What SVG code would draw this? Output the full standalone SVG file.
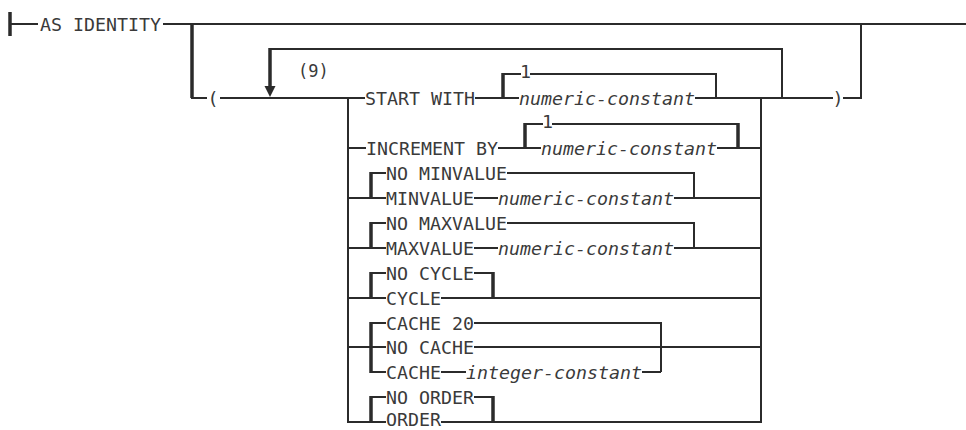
<svg xmlns="http://www.w3.org/2000/svg" width="966" height="430" viewBox="0 0 966 430">
<defs>
<style>
.ln{fill:none;stroke:#2b2b2b;stroke-width:2}
.tk{fill:none;stroke:#2b2b2b;stroke-width:3.5}
.t{font-family:"DejaVu Sans Mono","Liberation Mono",monospace;font-size:18.3px;fill:#3a3a3a}
.i{font-style:italic}
.d{font-size:17px}
.m{text-anchor:middle}
</style>
</defs>
<rect width="966" height="430" fill="#ffffff"/>
<g id="diagram" transform="translate(0,-3)">
<g id="connectors">
<path class="tk" d="M10 15V39"/>
<path class="ln" d="M10 27H38M163 27H966"/>
<path class="tk" d="M192 27V101"/>
<path class="ln" d="M191 101H207M220 101H365"/>
<path class="ln" d="M270 52H782V101"/>
<path class="tk" d="M270 51V90"/>
<polygon points="264.5,89 275.5,89 270,100" fill="#2b2b2b"/>
<path class="ln" d="M348 100V426M761 100V426"/>
<path class="ln" d="M695 101H833M843 101H861V26"/>
<!-- START WITH -->
<path class="ln" d="M475 101H519M503 77H521M530 77H716V101"/>
<path class="tk" d="M503 76V102"/>
<!-- INCREMENT BY -->
<path class="ln" d="M348 151H366M498 151H541M525 127H543M552 127H738M717 151H761"/>
<path class="tk" d="M525 126V152M738 126V152"/>
<!-- MINVALUE -->
<path class="ln" d="M348 201H386M371 176H386M507 176H694V201M474 201H498M674 201H761"/>
<path class="tk" d="M371 175V202"/>
<!-- MAXVALUE -->
<path class="ln" d="M348 251H386M371 226H386M507 226H694V251M474 251H498M674 251H761"/>
<path class="tk" d="M371 225V252"/>
<!-- CYCLE -->
<path class="ln" d="M348 301H386M371 276H386M474 276H493M441 301H761"/>
<path class="tk" d="M371 275V302M493 275V302"/>
<!-- CACHE -->
<path class="ln" d="M348 350H386M371 326H386M371 375H386M474 326H661V375M474 350H761M441 375H466M642 375H661"/>
<path class="tk" d="M371 325V376"/>
<!-- ORDER -->
<path class="ln" d="M348 425H386M371 400H386M474 400H493M441 425H761"/>
<path class="tk" d="M371 399V426M493 399V426"/>
</g>
<g id="as-identity"><text class="t" x="40" y="34">AS IDENTITY</text></g>
<g id="lparen"><text class="t m" x="213" y="108">(</text></g>
<g id="repeat-note"><text class="t d" x="298" y="80">(9)</text></g>
<g id="rparen"><text class="t m" x="838" y="108">)</text></g>
<g id="start-with"><text class="t" x="365" y="108">START WITH</text></g>
<g id="start-default"><text class="t" x="520" y="81">1</text></g>
<g id="start-const"><text class="t i" x="519" y="108">numeric-constant</text></g>
<g id="increment-by"><text class="t" x="366" y="158">INCREMENT BY</text></g>
<g id="increment-default"><text class="t" x="542" y="131">1</text></g>
<g id="increment-const"><text class="t i" x="541" y="158">numeric-constant</text></g>
<g id="no-minvalue"><text class="t" x="386" y="183">NO MINVALUE</text></g>
<g id="minvalue"><text class="t" x="386" y="208">MINVALUE</text></g>
<g id="minvalue-const"><text class="t i" x="498" y="208">numeric-constant</text></g>
<g id="no-maxvalue"><text class="t" x="386" y="233">NO MAXVALUE</text></g>
<g id="maxvalue"><text class="t" x="386" y="258">MAXVALUE</text></g>
<g id="maxvalue-const"><text class="t i" x="498" y="258">numeric-constant</text></g>
<g id="no-cycle"><text class="t" x="386" y="283">NO CYCLE</text></g>
<g id="cycle"><text class="t" x="386" y="308">CYCLE</text></g>
<g id="cache-20"><text class="t" x="386" y="333">CACHE 20</text></g>
<g id="no-cache"><text class="t" x="386" y="357">NO CACHE</text></g>
<g id="cache"><text class="t" x="386" y="382">CACHE</text></g>
<g id="cache-const"><text class="t i" x="466" y="382">integer-constant</text></g>
<g id="no-order"><text class="t" x="386" y="407">NO ORDER</text></g>
<g id="order"><text class="t" x="386" y="428.5">ORDER</text></g>
</g>
</svg>
